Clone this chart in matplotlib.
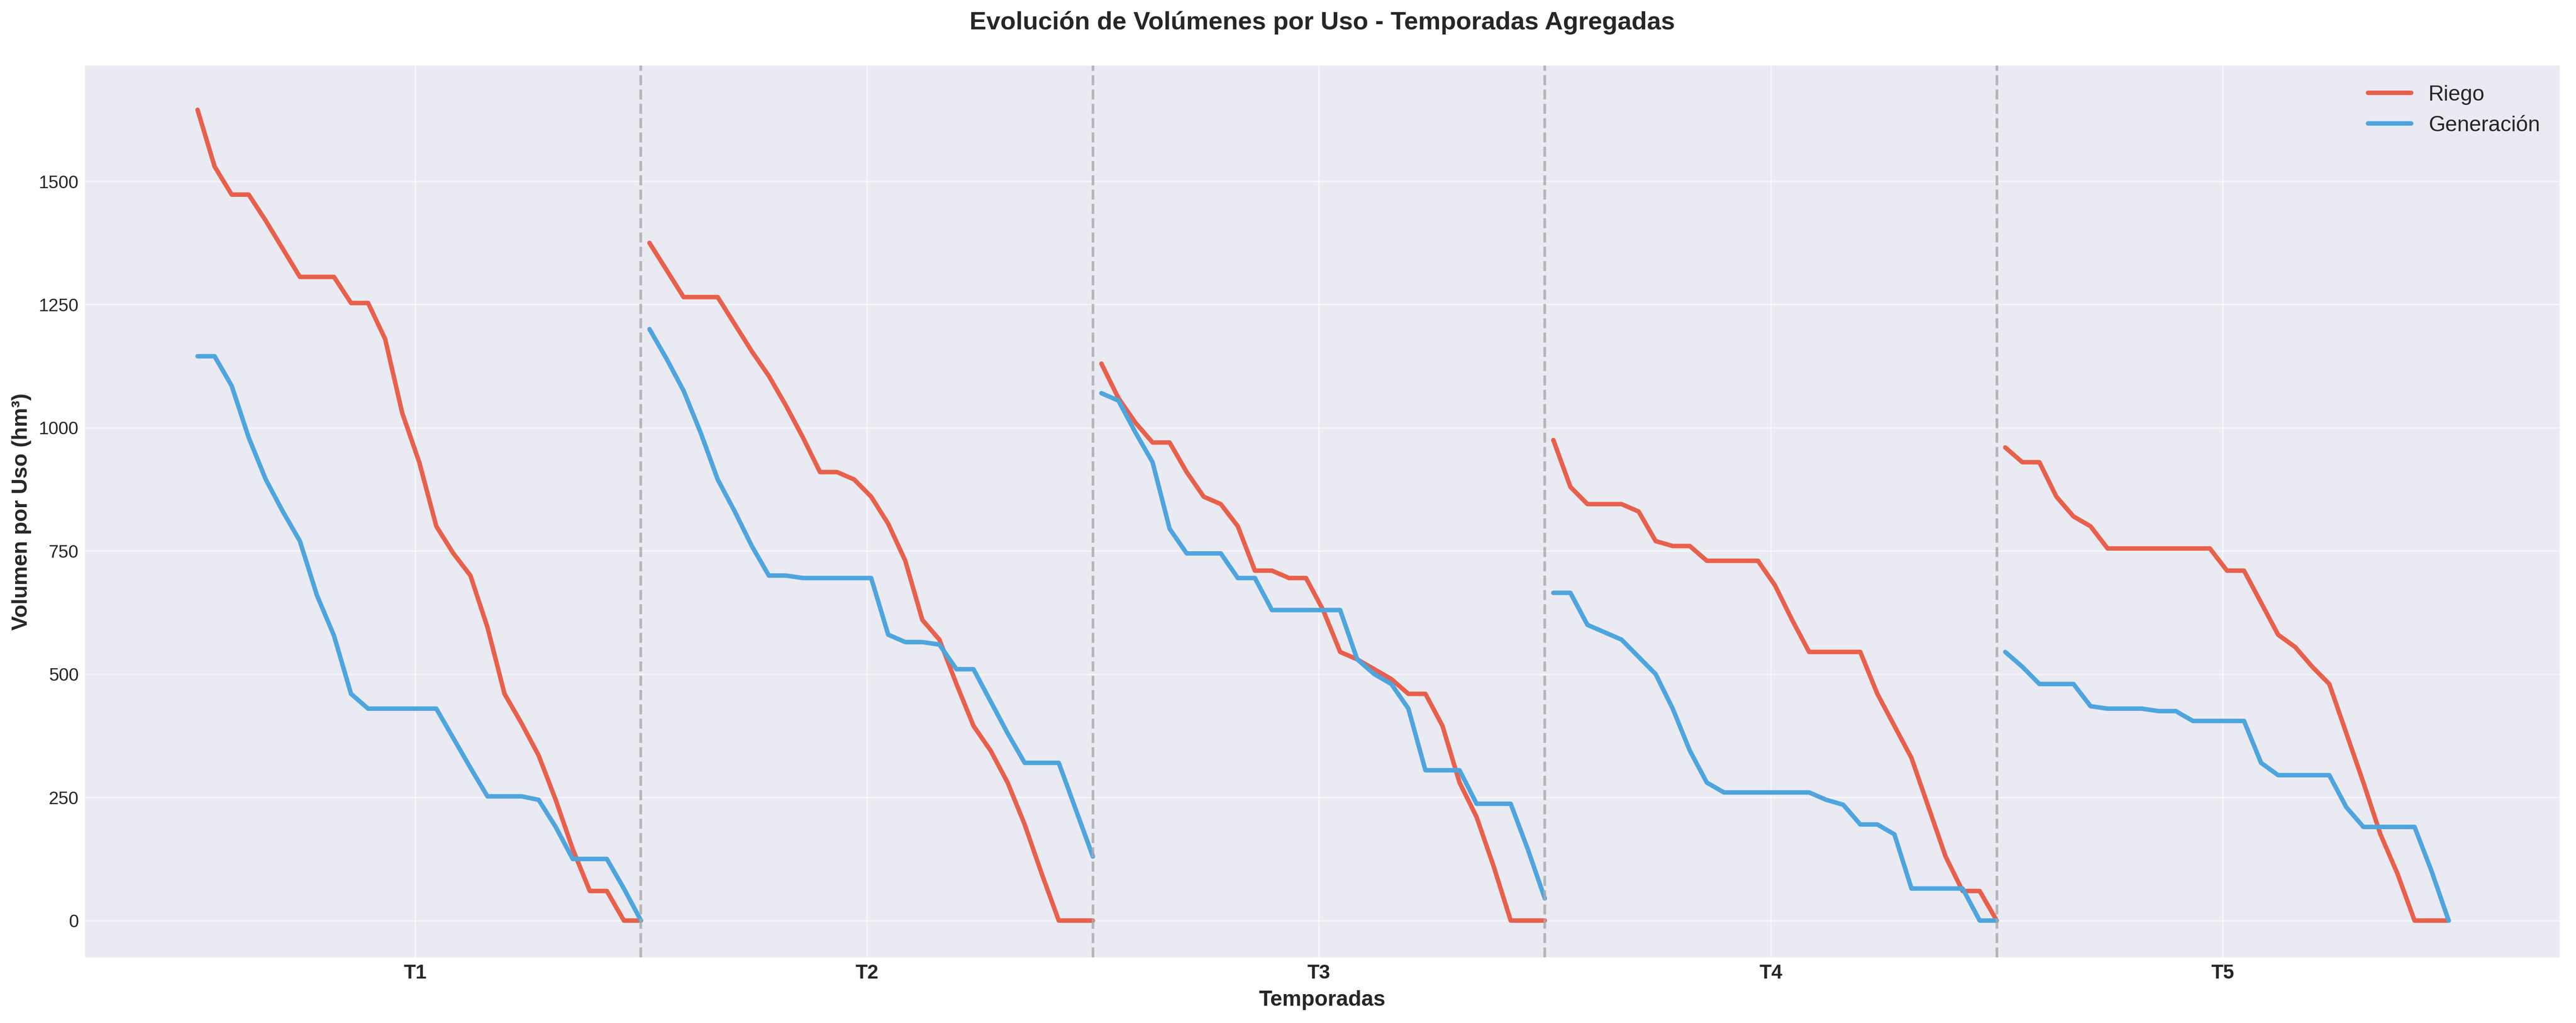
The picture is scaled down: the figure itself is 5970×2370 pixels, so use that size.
import matplotlib
matplotlib.use("Agg")
import matplotlib.pyplot as plt
import numpy as np

temporadas = ['T1', 'T2', 'T3', 'T4', 'T5']

riego = [
    [1645, 1530, 1473, 1473, 1420, 1363, 1306, 1306, 1306, 1253, 1253, 1180, 1030, 930,
     800, 745, 700, 595, 460, 400, 335, 245, 145, 60, 60, 0, 0],
    [1375, 1320, 1265, 1265, 1265, 1210, 1155, 1105, 1045, 980, 910, 910, 895, 860,
     805, 730, 610, 570, 480, 395, 345, 280, 195, 95, 0, 0, 0],
    [1130, 1060, 1010, 970, 970, 910, 860, 845, 800, 710, 710, 695, 695, 630,
     545, 530, 510, 490, 460, 460, 395, 280, 210, 110, 0, 0, 0],
    [975, 880, 845, 845, 845, 830, 770, 760, 760, 730, 730, 730, 730, 680,
     610, 545, 545, 545, 545, 460, 395, 330, 230, 130, 60, 60, 0],
    [960, 930, 930, 860, 820, 800, 755, 755, 755, 755, 755, 755, 755, 710,
     710, 645, 580, 555, 515, 480, 380, 280, 175, 95, 0, 0, 0],
]

generacion = [
    [1145, 1145, 1085, 980, 895, 830, 770, 660, 578, 460, 430, 430, 430, 430,
     430, 370, 310, 252, 252, 252, 245, 190, 125, 125, 125, 65, 0],
    [1200, 1140, 1075, 990, 895, 830, 760, 700, 700, 695, 695, 695, 695, 695,
     580, 565, 565, 560, 510, 510, 445, 380, 320, 320, 320, 225, 130],
    [1070, 1055, 990, 930, 795, 745, 745, 745, 695, 695, 630, 630, 630, 630,
     630, 530, 500, 480, 430, 305, 305, 305, 237, 237, 237, 145, 45],
    [665, 665, 600, 585, 570, 535, 500, 430, 345, 280, 260, 260, 260, 260,
     260, 260, 245, 235, 195, 195, 175, 65, 65, 65, 65, 0, 0],
    [545, 515, 480, 480, 480, 435, 430, 430, 430, 425, 425, 405, 405, 405,
     405, 320, 295, 295, 295, 295, 230, 190, 190, 190, 190, 100, 0],
]

paso = 26.5  # separacion entre temporadas

plt.style.use('seaborn-v0_8-darkgrid')
plt.rcParams['font.family'] = ['Arial', 'Liberation Sans', 'DejaVu Sans']

fig, ax = plt.subplots(figsize=(19.9, 7.9), dpi=300)
fig.subplots_adjust(left=0.033, right=0.9936, top=0.936, bottom=0.064)

for k in range(len(temporadas)):
    xs = k * paso + np.arange(len(riego[k]))
    ax.plot(xs, riego[k], color='#E8604C', lw=2.5, label='Riego' if k == 0 else None)
    ax.plot(xs, generacion[k], color='#4EA5DE', lw=2.5, label='Generación' if k == 0 else None)
    if k < len(temporadas) - 1:
        ax.axvline(k * paso + 26, color='#AAAAAA', ls='--', lw=1.5, alpha=0.8)

ax.set_xticks([k * paso + 12.75 for k in range(len(temporadas))])
ax.set_xticklabels(temporadas, fontweight='bold', fontsize=11)
ax.set_yticks([0, 250, 500, 750, 1000, 1250, 1500])
ax.tick_params(axis='y', labelsize=10)
ax.set_xlim(-6.6, 138.5)
ax.set_ylim(-75, 1735)
ax.grid(alpha=0.6)

ax.set_title('Evolución de Volúmenes por Uso - Temporadas Agregadas',
             fontsize=14, fontweight='bold', pad=20)
ax.set_xlabel('Temporadas', fontsize=12, fontweight='bold')
ax.set_ylabel('Volumen por Uso (hm³)', fontsize=12, fontweight='bold')
ax.legend(loc='upper right', fontsize=12)

fig.savefig('out.png', dpi=300)
